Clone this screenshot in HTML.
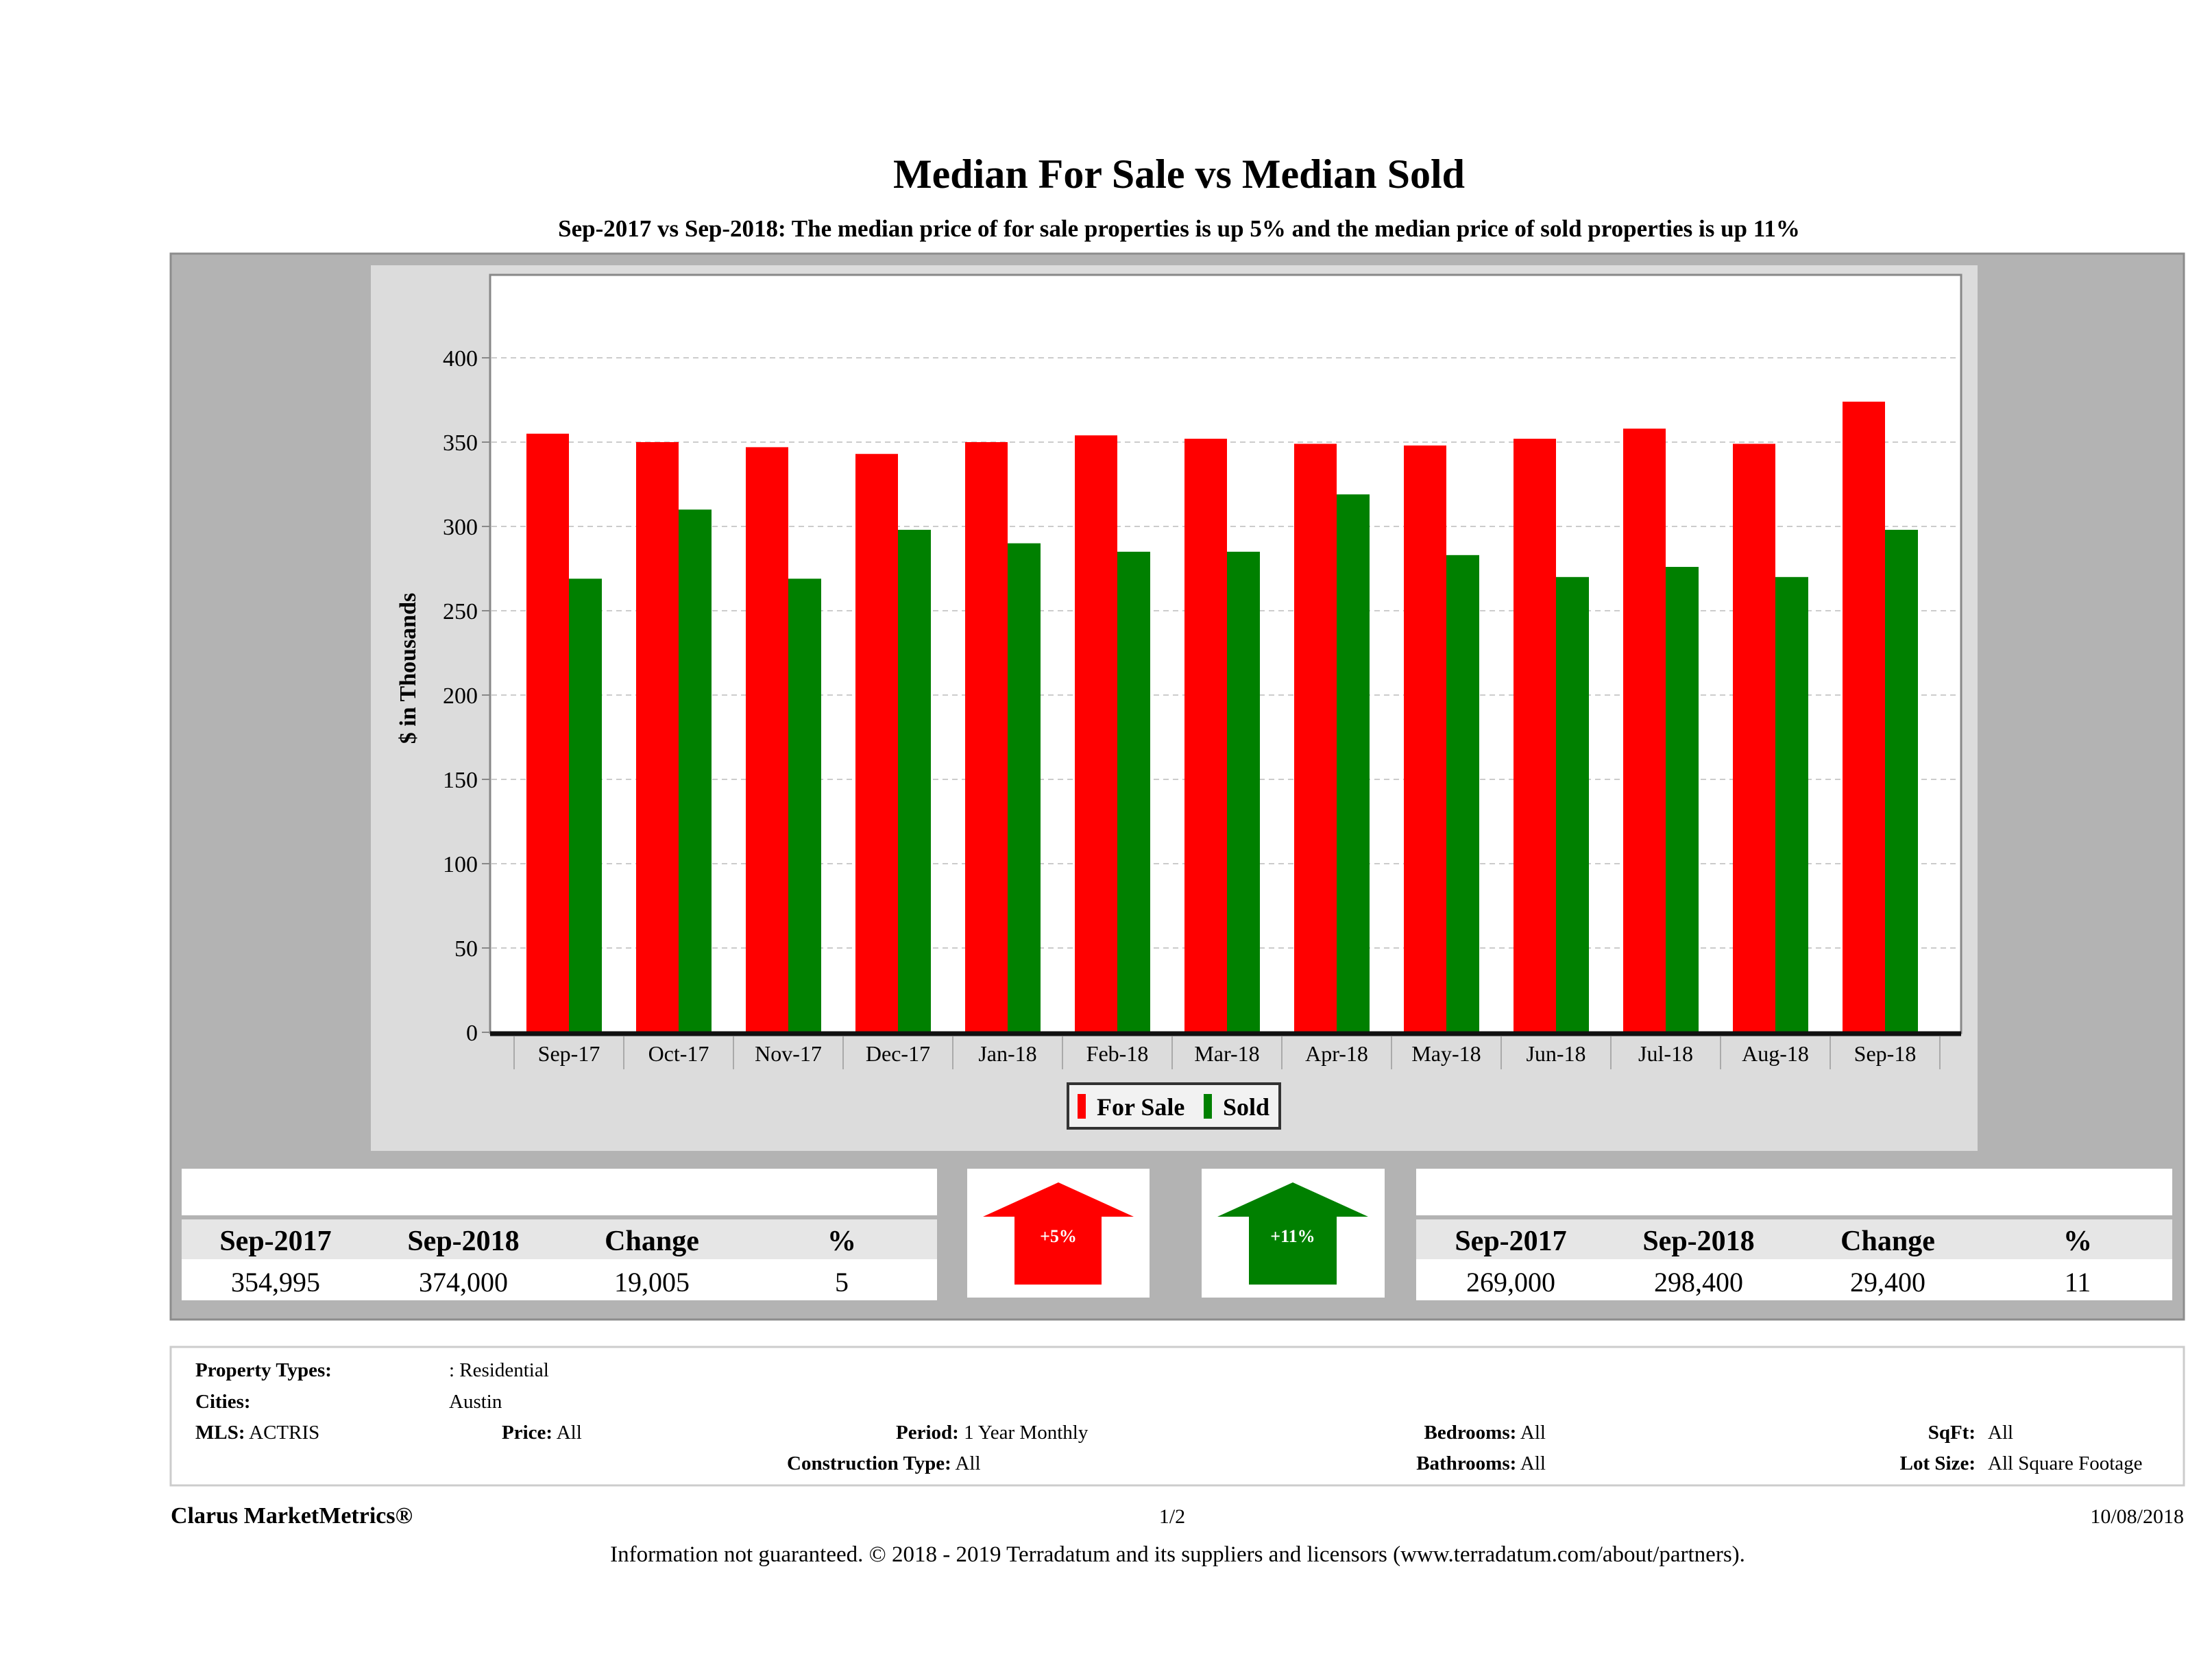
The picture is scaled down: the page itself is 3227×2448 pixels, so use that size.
<!DOCTYPE html>
<html><head><meta charset="utf-8"><style>
html,body{margin:0;padding:0;background:#fff}
svg{display:block;font-family:"Liberation Serif",serif}
</style></head><body>
<svg id="page" width="3227" height="2448" viewBox="0 0 3227 2448" xmlns="http://www.w3.org/2000/svg">
<text x="1720" y="274" text-anchor="middle" font-size="60" font-weight="bold">Median For Sale vs Median Sold</text>
<text x="1720" y="345" text-anchor="middle" font-size="35" font-weight="bold">Sep-2017 vs Sep-2018: The median price of for sale properties is up 5% and the median price of sold properties is up 11%</text>
<rect x="249" y="370" width="2937" height="1555" fill="#b3b3b3" stroke="#8c8c8c" stroke-width="3"/>
<rect x="541" y="387" width="2344" height="1292" fill="#dcdcdc"/>
<rect x="715" y="401" width="2146" height="1106" fill="#fff" stroke="#888" stroke-width="3"/>
<g id="grid"></g><g id="bars"></g><g id="axes"></g>
<text transform="translate(606,975) rotate(-90)" text-anchor="middle" font-size="34" font-weight="bold">$ in Thousands</text>
<g>
<rect x="1558" y="1581" width="309" height="65" fill="#f2f2f2" stroke="#333" stroke-width="4"/>
<rect x="1572" y="1596" width="12" height="36" fill="#f00"/>
<text x="1600" y="1627" font-size="36" font-weight="bold">For Sale</text>
<rect x="1756" y="1596" width="12" height="36" fill="#008000"/>
<text x="1784" y="1627" font-size="36" font-weight="bold">Sold</text>
</g>
<g>
<rect x="265" y="1705" width="1102" height="192" fill="#fff"/>
<rect x="265" y="1779" width="1102" height="58" fill="#e6e6e6"/>
<line x1="265" y1="1776" x2="1367" y2="1776" stroke="#b3b3b3" stroke-width="6"/>
<g font-size="42" font-weight="bold" text-anchor="middle"><text x="402" y="1824">Sep-2017</text><text x="676" y="1824">Sep-2018</text><text x="951" y="1824">Change</text><text x="1228" y="1824">%</text></g>
<g font-size="40" text-anchor="middle"><text x="402" y="1884">354,995</text><text x="676" y="1884">374,000</text><text x="951" y="1884">19,005</text><text x="1228" y="1884">5</text></g>
</g>
<g>
<rect x="1411" y="1705" width="266" height="188" fill="#fff"/>
<polygon points="1544,1725 1654,1775 1607,1775 1607,1874 1480,1874 1480,1775 1434,1775" fill="#f00"/>
<text x="1544" y="1812" text-anchor="middle" font-size="26" font-weight="bold" fill="#fff">+5%</text>
</g>
<g>
<rect x="1753" y="1705" width="267" height="188" fill="#fff"/>
<polygon points="1886,1725 1996,1775 1950,1775 1950,1874 1822,1874 1822,1775 1776,1775" fill="#008000"/>
<text x="1886" y="1812" text-anchor="middle" font-size="26" font-weight="bold" fill="#fff">+11%</text>
</g>
<g>
<rect x="2066" y="1705" width="1103" height="192" fill="#fff"/>
<rect x="2066" y="1779" width="1103" height="58" fill="#e6e6e6"/>
<line x1="2066" y1="1776" x2="3169" y2="1776" stroke="#b3b3b3" stroke-width="6"/>
<g font-size="42" font-weight="bold" text-anchor="middle"><text x="2204" y="1824">Sep-2017</text><text x="2478" y="1824">Sep-2018</text><text x="2754" y="1824">Change</text><text x="3031" y="1824">%</text></g>
<g font-size="40" text-anchor="middle"><text x="2204" y="1884">269,000</text><text x="2478" y="1884">298,400</text><text x="2754" y="1884">29,400</text><text x="3031" y="1884">11</text></g>
</g>
<g font-size="29">
<rect x="249" y="1965" width="2937" height="202" fill="#fff" stroke="#ccc" stroke-width="3"/>
<text x="285" y="2008" font-weight="bold">Property Types:</text><text x="655" y="2008">: Residential</text>
<text x="285" y="2054" font-weight="bold">Cities:</text><text x="655" y="2054">Austin</text>
<text x="285" y="2099"><tspan font-weight="bold">MLS:</tspan>   ACTRIS</text>
<text x="732" y="2099"><tspan font-weight="bold">Price:</tspan> All</text>
<text x="1307" y="2099"><tspan font-weight="bold">Period:</tspan> 1 Year Monthly</text>
<text x="1148" y="2144"><tspan font-weight="bold">Construction Type:</tspan> All</text>
<text x="2255" y="2099" text-anchor="end"><tspan font-weight="bold">Bedrooms:</tspan> All</text>
<text x="2255" y="2144" text-anchor="end"><tspan font-weight="bold">Bathrooms:</tspan> All</text>
<text x="2882" y="2099" text-anchor="end" font-weight="bold">SqFt:</text><text x="2900" y="2099">All</text>
<text x="2882" y="2144" text-anchor="end" font-weight="bold">Lot Size:</text><text x="2900" y="2144">All Square Footage</text>
</g>
<text x="249" y="2222" font-size="34" font-weight="bold">Clarus MarketMetrics®</text>
<text x="1710" y="2222" text-anchor="middle" font-size="30">1/2</text>
<text x="3186" y="2222" text-anchor="end" font-size="30">10/08/2018</text>
<text x="1718" y="2278" text-anchor="middle" font-size="33">Information not guaranteed. © 2018 - 2019 Terradatum and its suppliers and licensors (www.terradatum.com/about/partners).</text>
</svg>
<script>
const categories = ["Sep-17","Oct-17","Nov-17","Dec-17","Jan-18","Feb-18","Mar-18","Apr-18","May-18","Jun-18","Jul-18","Aug-18","Sep-18"];
const forSale = [355,350,347,343,350,354,352,349,348,352,358,349,374];
const sold = [269,310,269,298,290,285,285,319,283,270,276,270,298];
const yTicks = [0,50,100,150,200,250,300,350,400];
const NS="http://www.w3.org/2000/svg";
const y0=1506, pxPer=(1506-522)/400, x0=750, catW=160;
const y=v=>y0-v*pxPer, xc=i=>x0+i*catW;
function mk(t,a,p){const e=document.createElementNS(NS,t);for(const k in a)e.setAttribute(k,a[k]);p.appendChild(e);return e;}
const grid=document.getElementById('grid'), bars=document.getElementById('bars'), axes=document.getElementById('axes');
yTicks.forEach(v=>{
  if(v>0){const g=mk('line',{x1:717,x2:2859,y1:y(v),y2:y(v),stroke:'#ccc','stroke-width':2,'stroke-dasharray':'8 6'},grid);
  
  }
  mk('line',{x1:703,x2:715,y1:y(v),y2:y(v),stroke:'#888','stroke-width':2},axes);
  const t=mk('text',{x:697,y:y(v)+12,'text-anchor':'end','font-size':34},axes);t.textContent=v;
  
  
});
categories.forEach((c,i)=>{
  const r=mk('rect',{x:xc(i)+18,y:y(forSale[i]),width:62,height:y0-y(forSale[i]),fill:'#f00'},bars);
  
  
  const g=mk('rect',{x:xc(i)+80,y:y(sold[i]),width:48,height:y0-y(sold[i]),fill:'#008000'},bars);
  
  
  mk('line',{x1:xc(i),x2:xc(i),y1:1512,y2:1560,stroke:'#aaa','stroke-width':2},axes);
  const t=mk('text',{x:xc(i)+catW/2,y:1548,'text-anchor':'middle','font-size':32},axes);t.textContent=c;
  
  
});
mk('line',{x1:xc(categories.length),x2:xc(categories.length),y1:1512,y2:1560,stroke:'#aaa','stroke-width':2},axes);
mk('line',{x1:715,x2:2861,y1:1508,y2:1508,stroke:'#111','stroke-width':7},axes);
</script>
</body></html>
